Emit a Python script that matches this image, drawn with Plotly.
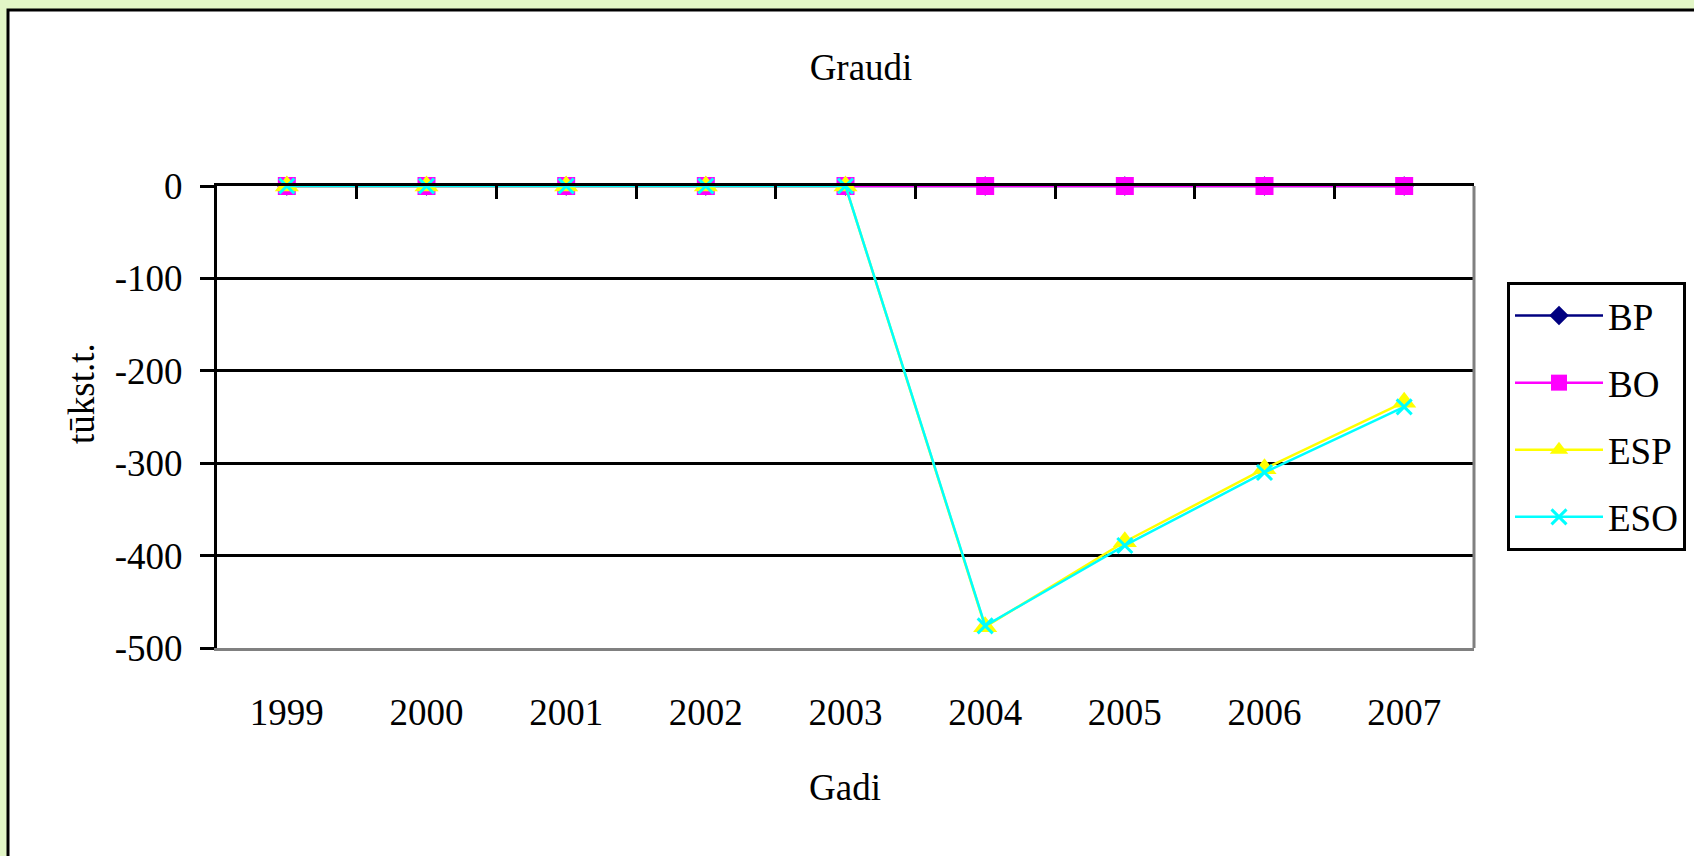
import plotly.graph_objects as go

years = ["1999", "2000", "2001", "2002", "2003", "2004", "2005", "2006", "2007"]
BP = [0, 0, 0, 0, 0, 0, 0, 0, 0]
BO = [0, 0, 0, 0, 0, 0, 0, 0, 0]
ESP = [0, 0, 0, 0, 0, -477, -385, -306, -234]
ESO = [0, 0, 0, 0, 0, -476, -389, -310, -239]
y_ticks = [0, -100, -200, -300, -400, -500]

W, H = 1694, 856
L, R, T, B = 217, 220, 186, 208
pw, ph = W - L - R, H - T - B

def px_x(p):
    return (p - L) / pw

def px_y(p):
    return (H - B - p) / ph

FONT = "Liberation Serif"
FS = 37

fig = go.Figure()

fig.add_trace(go.Scatter(x=years, y=BP, name="BP", mode="lines+markers", legendgroup="a",
                         cliponaxis=False,
                         line=dict(color="#000080", width=2.5),
                         marker=dict(symbol="diamond", size=15, color="#000080")))
fig.add_trace(go.Scatter(x=years, y=BO, name="BO", mode="lines+markers", legendgroup="b",
                         cliponaxis=False,
                         line=dict(color="#FF00FF", width=2.5),
                         marker=dict(symbol="square", size=18, color="#FF00FF")))
fig.add_trace(go.Scatter(x=years, y=ESP, name="ESP", mode="lines+markers", legendgroup="c",
                         cliponaxis=False,
                         line=dict(color="#FFFF00", width=2.5),
                         marker=dict(symbol="triangle-up", size=21, color="#FFFF00")))
fig.add_trace(go.Scatter(x=years, y=ESO, name="ESO", mode="lines+markers", legendgroup="d",
                         cliponaxis=False,
                         line=dict(color="#00FFFF", width=2.5),
                         marker=dict(symbol="x-thin", size=15, color="#00FFFF",
                                     line=dict(color="#00FFFF", width=3))))
fig.add_trace(go.Scatter(x=years, y=BP, xaxis="x2", mode="lines", showlegend=False,
                         hoverinfo="skip", line=dict(width=0), opacity=0))

shapes = [
    dict(type="rect", xref="paper", yref="paper", layer="below",
         x0=px_x(8), x1=px_x(1710), y0=px_y(870), y1=px_y(10),
         fillcolor="white", line=dict(color="black", width=3)),
    dict(type="line", xref="paper", yref="paper", x0=1, x1=1, y0=0, y1=1,
         line=dict(color="#808080", width=3)),
]

fig.update_layout(
    width=W, height=H,
    margin=dict(l=L, r=R, t=T, b=B, autoexpand=False),
    paper_bgcolor="#e2f6c6",
    plot_bgcolor="rgba(0,0,0,0)",
    font=dict(family=FONT, size=FS, color="black"),
    title=dict(text="Graudi", x=861 / W, xanchor="center", y=1 - 67 / H, yanchor="middle",
               font=dict(family=FONT, size=FS, color="black")),
    showlegend=True,
    legend=dict(x=px_x(1507), xanchor="left", y=px_y(282), yanchor="top",
                bgcolor="white", bordercolor="black", borderwidth=3,
                font=dict(family=FONT, size=FS, color="black"),
                tracegroupgap=16, itemwidth=88),
    xaxis=dict(type="category", categoryorder="array", categoryarray=years,
               range=[-0.5, 8.5], showgrid=False, zeroline=False,
               showline=True, linecolor="#808080", linewidth=3,
               ticks="", ticklabelstandoff=30,
               tickfont=dict(family=FONT, size=FS, color="black")),
    xaxis2=dict(type="category", categoryorder="array", categoryarray=years,
                overlaying="x", side="top", anchor="y", range=[-0.5, 8.5],
                showgrid=False, zeroline=False, showticklabels=False,
                showline=True, linecolor="black", linewidth=2.5,
                ticks="inside", ticklen=13, tickwidth=2.5, tickcolor="black",
                tickson="boundaries"),
    yaxis=dict(range=[-500, 0], tickvals=y_ticks, ticktext=[str(v) for v in y_ticks],
               showgrid=True, gridcolor="black", gridwidth=2.5, zeroline=False,
               showline=True, linecolor="black", linewidth=3,
               ticks="outside", ticklen=14, tickwidth=2.5, tickcolor="black",
               ticklabelstandoff=10,
               tickfont=dict(family=FONT, size=FS, color="black")),
    shapes=shapes,
    annotations=[
        dict(text="Gadi", xref="paper", yref="paper", x=px_x(845), y=px_y(787),
             xanchor="center", yanchor="middle", showarrow=False,
             font=dict(family=FONT, size=FS, color="black")),
        dict(text="tūkst.t.", xref="paper", yref="paper", x=px_x(81), y=px_y(394),
             xanchor="center", yanchor="middle", showarrow=False, textangle=-90,
             font=dict(family=FONT, size=FS, color="black")),
    ],
)

fig.write_html("out.html", config={"displayModeBar": False},
               post_script="document.body.style.margin='0';")
